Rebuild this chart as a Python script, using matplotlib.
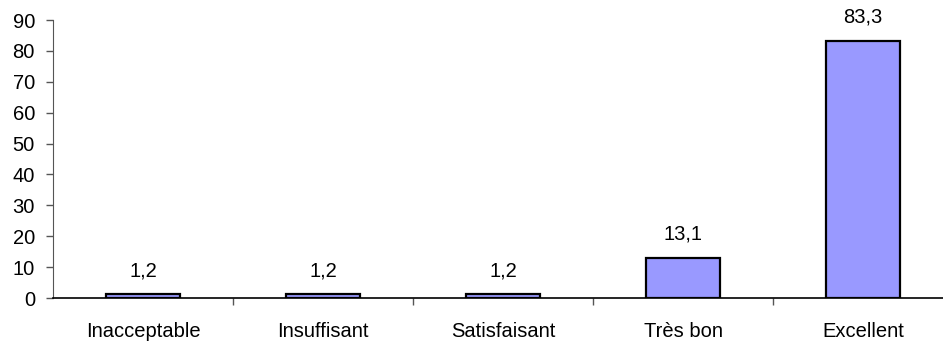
import matplotlib
matplotlib.use("Agg")
import matplotlib.pyplot as plt
import numpy as np

categories = ["Inacceptable", "Insuffisant", "Satisfaisant", "Très bon", "Excellent"]
values = [1.2, 1.2, 1.2, 13.1, 83.3]
yticks = [0, 10, 20, 30, 40, 50, 60, 70, 80, 90]

plt.rcParams['font.family'] = ['Liberation Sans', 'DejaVu Sans']
fs = 14.5

fig = plt.figure(figsize=(9.43, 3.42), dpi=100)
W, H = 943, 342
ax = fig.add_axes([53 / W, (H - 298) / H, 900 / W, (298 - 20) / H])

x = np.arange(len(categories))
bars = ax.bar(x, values, width=0.41, color="#9999FF", edgecolor="black", linewidth=1.6, zorder=3)

for xi, v in zip(x, values):
    ax.annotate(f"{v:.1f}".replace(".", ","), (xi, v), xytext=(0, 10), textcoords="offset points",
                ha="center", va="bottom", fontsize=fs)

ax.set_xlim(-0.5, len(categories) - 0.5)
ax.set_ylim(0, 90)
ax.set_yticks(yticks)
ax.set_yticklabels([str(t) for t in yticks], fontsize=fs)
ax.set_xticks(x)
ax.set_xticklabels(categories, fontsize=fs)
ax.set_xticks(np.arange(0.5, len(categories) - 0.5, 1), minor=True)
ax.tick_params(axis="x", which="major", length=0, pad=17)
ax.tick_params(axis="x", which="minor", length=5, width=1, color="#555555")
ax.tick_params(axis="y", which="major", length=5, width=1, pad=8, color="#555555")

for s in ["top", "right"]:
    ax.spines[s].set_visible(False)
ax.spines["left"].set_color("#555555")
ax.spines["bottom"].set_color("black")
ax.spines["bottom"].set_linewidth(1.2)

fig.savefig("out.png", dpi=100)
